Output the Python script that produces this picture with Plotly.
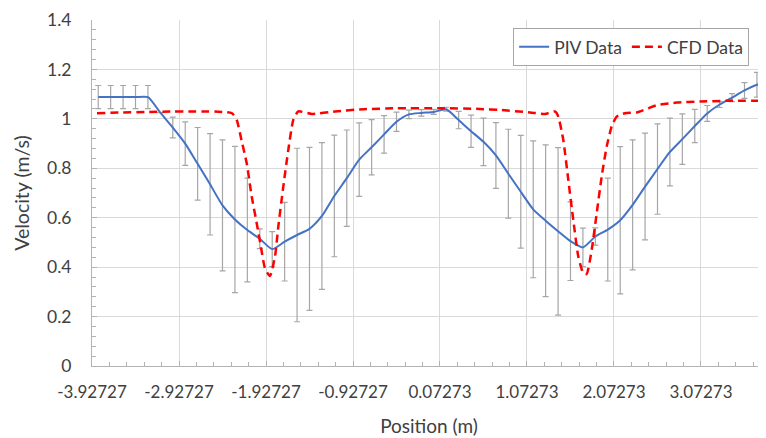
import plotly.graph_objects as go

# PIV measurement positions (m), mean velocity (m/s) and error (m/s)
piv_x = [-3.8558, -3.7130, -3.5701, -3.4273, -3.2844, -3.1416, -2.9987, -2.8558, -2.7130, -2.5701,
         -2.4273, -2.2844, -2.1416, -1.9987, -1.8558, -1.7130, -1.5701, -1.4273, -1.2844, -1.1416,
         -0.9987, -0.8558, -0.7130, -0.5701, -0.4273, -0.2844, -0.1416, 0.0013, 0.1442, 0.2870,
         0.4299, 0.5727, 0.7156, 0.8584, 1.0013, 1.1442, 1.2870, 1.4299, 1.5727, 1.7156,
         1.8584, 2.0013, 2.1442, 2.2870, 2.4299, 2.5727, 2.7156, 2.8584, 3.0013, 3.1442,
         3.2870, 3.4299, 3.5727, 3.7156, 3.8584]
piv_v = [1.088, 1.088, 1.088, 1.088, 1.088, 1.025, 0.965, 0.900, 0.818, 0.735,
         0.650, 0.593, 0.550, 0.515, 0.473, 0.503, 0.530, 0.555, 0.607, 0.688,
         0.760, 0.835, 0.885, 0.937, 0.988, 1.018, 1.024, 1.028, 1.039, 0.995,
         0.950, 0.907, 0.852, 0.778, 0.705, 0.634, 0.588, 0.545, 0.505, 0.480,
         0.524, 0.552, 0.590, 0.652, 0.726, 0.797, 0.866, 0.918, 0.971, 1.022,
         1.058, 1.086, 1.115, 1.138, 1.152]
piv_err = [0.047, 0.047, 0.047, 0.047, 0.047, 0.0, 0.042, 0.088, 0.147, 0.205,
           0.265, 0.296, 0.210, 0.040, 0.071, 0.159, 0.351, 0.330, 0.297, 0.246,
           0.195, 0.149, 0.112, 0.076, 0.039, 0.017, 0.013, 0.010, 0.008, 0.035,
           0.065, 0.096, 0.133, 0.180, 0.228, 0.277, 0.307, 0.339, 0.159, 0.078,
           0.035, 0.208, 0.298, 0.263, 0.216, 0.183, 0.137, 0.102, 0.067, 0.032,
           0.012, 0.016, 0.032, 0.050, 0.030]

# CFD profile
cfd_x = [-3.870, -2.3216, -2.264, -2.2066, -2.149, -2.0916, -2.034, -1.9848, -1.9388, -1.8813,
         -1.8238, -1.7859, -1.7284, -1.671, -1.6135, -1.556, -1.402, -1.134, -0.8089, -0.425,
         0.0727, 0.5325, 0.7624, 1.1072, 1.2796, 1.3945, 1.4325, 1.49, 1.5474, 1.6049,
         1.6624, 1.7199, 1.7589, 1.8164, 1.8739, 1.9313, 1.9888, 2.0463, 2.1038, 2.1991,
         2.3336, 2.467, 2.5636, 2.7934, 3.0612, 3.3681, 3.8658]
cfd_v = [1.023, 1.023, 0.996, 0.910, 0.820, 0.686, 0.578, 0.480, 0.395, 0.364,
         0.443, 0.564, 0.726, 0.874, 0.996, 1.030, 1.020, 1.030, 1.039, 1.043,
         1.043, 1.040, 1.036, 1.026, 1.020, 1.030, 1.009, 0.915, 0.753, 0.591,
         0.443, 0.375, 0.372, 0.470, 0.618, 0.767, 0.888, 0.969, 1.009, 1.023,
         1.026, 1.043, 1.055, 1.066, 1.070, 1.073, 1.073]

x_tickvals = [-3.92727, -2.92727, -1.92727, -0.92727, 0.07273, 1.07273, 2.07273, 3.07273]
x_ticktext = ["-3.92727", "-2.92727", "-1.92727", "-0.92727", "0.07273", "1.07273", "2.07273", "3.07273"]

FONT = "Lato"
TXT = "#404040"
GRID = "#d9d9d9"
AX = "#b3b3b3"

fig = go.Figure()

fig.add_trace(go.Scatter(
    x=piv_x, y=piv_v, mode="markers", showlegend=False, hoverinfo="skip",
    marker=dict(size=1, color="rgba(0,0,0,0)"),
    error_y=dict(type="data", array=piv_err, visible=True, color="#a6a6a6", thickness=1.2, width=3),
))
fig.add_trace(go.Scatter(
    x=piv_x, y=piv_v, mode="lines", name="PIV Data",
    line=dict(color="#4472C4", width=2, shape="spline", smoothing=0.6),
))
fig.add_trace(go.Scatter(
    x=cfd_x, y=cfd_v, mode="lines", name="CFD Data",
    line=dict(color="#ff0000", width=2.5, dash="8px,5px", shape="spline", smoothing=0.5),
))

# page body has an 8px margin, so the figure is sized to fit the window from (8,8)
fig.update_layout(
    width=758, height=430,
    margin=dict(l=84, r=0, t=12, b=72, autoexpand=False),
    paper_bgcolor="white", plot_bgcolor="white",
    font=dict(family=FONT, size=17, color=TXT),
    legend=dict(orientation="h", x=0.975, xanchor="right", y=0.977, yanchor="top",
                bgcolor="white", bordercolor="#a6a6a6", borderwidth=1,
                font=dict(size=17.5, color=TXT), itemwidth=30, tracegroupgap=0),
    xaxis=dict(
        range=[-3.92727, 3.82], tickvals=x_tickvals, ticktext=x_ticktext,
        showgrid=True, gridcolor=GRID, gridwidth=1, automargin=False,
        showline=True, linecolor=AX, linewidth=1,
        ticks="inside", ticklen=5, tickcolor=AX,
        minor=dict(tick0=-3.92727, dtick=0.2, ticks="inside", ticklen=4, tickcolor=AX, showgrid=False),
        zeroline=False, tickfont=dict(size=17, color=TXT), ticklabelstandoff=11,
        title=dict(text="Position (m)", font=dict(size=19, color=TXT), standoff=18),
    ),
    yaxis=dict(
        range=[0, 1.4], dtick=0.2, tick0=0, automargin=False,
        showgrid=True, gridcolor=GRID, gridwidth=1,
        showline=True, linecolor=AX, linewidth=1,
        ticks="inside", ticklen=5, tickcolor=AX,
        minor=dict(dtick=0.04, ticks="inside", ticklen=4, tickcolor=AX, showgrid=False),
        zeroline=False, tickfont=dict(size=17.5, color=TXT), ticklabelstandoff=16,
        title=dict(text="Velocity (m/s)", font=dict(size=19.5, color=TXT), standoff=12),
    ),
)

fig.write_html("out.html")
